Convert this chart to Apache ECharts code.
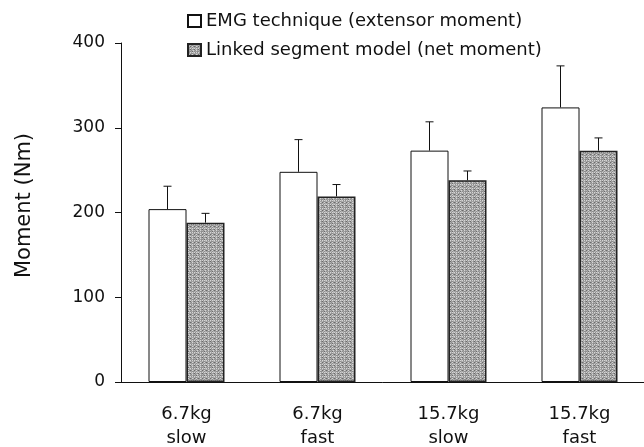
<!DOCTYPE html>
<html>
<head>
<meta charset="utf-8">
<script src="https://cdn.jsdelivr.net/npm/echarts@6/dist/echarts.min.js"></script>
<style>
  html, body { margin: 0; padding: 0; background: #ffffff; }
  #chart { width: 644px; height: 447px; }
</style>
</head>
<body>
<div id="chart"></div>
<script>
var categories = ['6.7kg\nslow', '6.7kg\nfast', '15.7kg\nslow', '15.7kg\nfast'];
var seriesNames = ['EMG technique (extensor moment)', 'Linked segment model (net moment)'];
var emgMean = [204, 248, 273, 324];
var emgSD = [27, 38, 34, 49];
var lsmMean = [188, 219, 238, 273];
var lsmSD = [11, 14, 11, 15];
var yMin = 0, yMax = 400, yStep = 100;

var FONT = 'DejaVu Sans';
var BAR_W = 38;

// hand-drawn 8x8 speckle tile (grey shades, '.'=light gap)
var TILE = [
  '.b.a.c.b',
  'aacbbaca',
  '.cda.bdb',
  'bbacbcaa',
  '.a.b.c.a',
  'cbdaabdc',
  '.acbc.ab',
  'abbadcba'
];
var SHADES = { '.': '#d4d4d4', a: '#a2a2a2', b: '#8e8e8e', c: '#b4b4b4', d: '#6a6a6a' };

function makePattern() {
  var c = document.createElement('canvas');
  c.width = 8; c.height = 8;
  var ctx = c.getContext('2d');
  for (var y = 0; y < 8; y++) {
    for (var x = 0; x < 8; x++) {
      ctx.fillStyle = SHADES[TILE[y][x]];
      ctx.fillRect(x, y, 1, 1);
    }
  }
  return c;
}
var pattern = { image: makePattern(), repeat: 'repeat' };

function errorSeries(means, sds, offset) {
  var data = means.map(function (m, i) { return [i, m, m + sds[i]]; });
  return {
    type: 'custom',
    silent: true,
    z: 5,
    data: data,
    encode: { x: 0, y: [1, 2] },
    renderItem: function (params, api) {
      var idx = api.value(0);
      var base = api.coord([idx, api.value(1)]);
      var top = api.coord([idx, api.value(2)]);
      var x = base[0] + offset;
      var style = { stroke: '#111', lineWidth: 1 };
      return {
        type: 'group',
        children: [
          { type: 'line', shape: { x1: x, y1: base[1], x2: x, y2: top[1] }, style: style },
          { type: 'line', shape: { x1: x - 4, y1: top[1], x2: x + 4, y2: top[1] }, style: style }
        ]
      };
    }
  };
}

var chart = echarts.init(document.getElementById('chart'), null, { renderer: 'canvas' });
chart.setOption({
  backgroundColor: '#ffffff',
  animation: false,
  textStyle: { fontFamily: FONT },
  legend: {
    orient: 'vertical',
    left: 182,
    top: 6,
    itemWidth: 13,
    itemHeight: 12,
    itemGap: 9,
    icon: 'rect',
    data: seriesNames,
    textStyle: { fontFamily: FONT, fontSize: 18, color: '#111', lineHeight: 20 }
  },
  grid: { left: 121, top: 43, width: 524, bottom: 65, containLabel: false, outerBoundsMode: 'none' },
  xAxis: {
    type: 'category',
    data: categories,
    axisLine: { lineStyle: { color: '#111', width: 1 } },
    axisTick: { show: false },
    axisLabel: { fontFamily: FONT, fontSize: 18, color: '#111', lineHeight: 24, margin: 20 }
  },
  yAxis: {
    type: 'value',
    min: yMin,
    max: yMax,
    interval: yStep,
    name: 'Moment (Nm)',
    nameLocation: 'middle',
    nameRotate: 90,
    nameGap: 86,
    nameTextStyle: { fontFamily: FONT, fontSize: 21, color: '#111', padding: [0, 0, 0, 14] },
    axisLine: { show: true, lineStyle: { color: '#111', width: 1 } },
    axisTick: { show: true, inside: false, length: 6, lineStyle: { color: '#111' } },
    splitLine: { show: false },
    axisLabel: { fontFamily: FONT, fontSize: 17, color: '#111', margin: 16 }
  },
  series: [
    {
      name: seriesNames[0],
      type: 'bar',
      data: emgMean,
      barWidth: BAR_W,
      barGap: '0%',
      itemStyle: { color: '#ffffff', borderColor: '#111', borderWidth: 1 }
    },
    {
      name: seriesNames[1],
      type: 'bar',
      data: lsmMean,
      barWidth: BAR_W,
      barGap: '0%',
      itemStyle: { color: pattern, borderColor: '#222', borderWidth: 1.5 }
    },
    errorSeries(emgMean, emgSD, -BAR_W / 2),
    errorSeries(lsmMean, lsmSD, BAR_W / 2)
  ]
});
</script>
</body>
</html>
